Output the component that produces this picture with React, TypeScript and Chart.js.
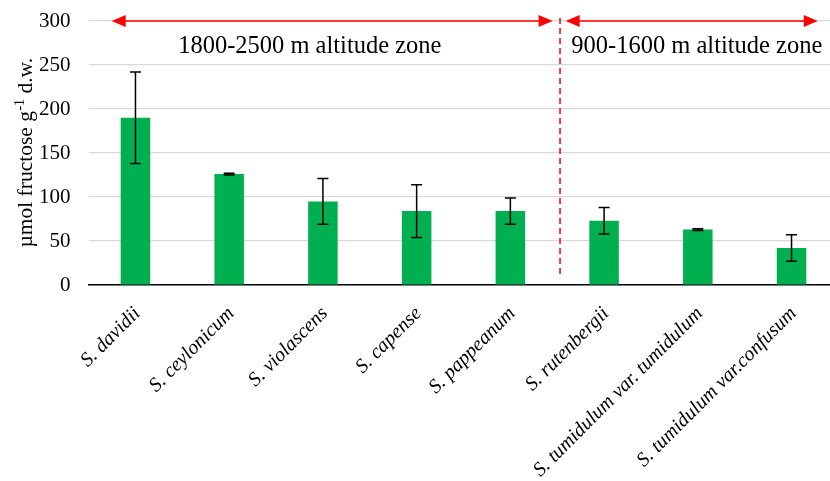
import React, { useEffect, useRef } from "react";
import { Chart, registerables } from "chart.js";

Chart.register(...registerables);

const categories = [
  "S. davidii",
  "S. ceylonicum",
  "S. violascens",
  "S. capense",
  "S. pappeanum",
  "S. rutenbergii",
  "S. tumidulum var. tumidulum",
  "S. tumidulum var.confusum",
];
const fructoseMeans = [190, 126, 95, 84, 84, 73, 63, 42];
const fructoseErrors = [52, 1, 26, 30, 15, 15, 1, 15];
const yTickStep = 50;
const yMax = 300;
const zoneLabels = ["1800-2500 m altitude zone", "900-1600 m altitude zone"];
const yTitleParts = ["\u00b5mol fructose g", "-1", " d.w."];

const SERIF = '"Liberation Serif", "Times New Roman", serif';

const annotationPlugin = {
  id: "annotations",
  afterDatasetsDraw(chart: any) {
    const ctx = chart.ctx;
    const x = chart.scales.x;
    const y = chart.scales.y;
    const x0 = x.getPixelForValue(0);
    const step = x.getPixelForValue(1) - x0;
    const px = (v: number) => x0 + v * step;

    // error bars
    ctx.save();
    ctx.strokeStyle = "#000";
    ctx.lineWidth = 1.5;
    fructoseMeans.forEach((m, i) => {
      const e = fructoseErrors[i];
      const cx = x.getPixelForValue(i);
      const yt = y.getPixelForValue(m + e);
      const yb = y.getPixelForValue(m - e);
      ctx.beginPath();
      ctx.moveTo(cx, yt);
      ctx.lineTo(cx, yb);
      ctx.moveTo(cx - 5.5, yt);
      ctx.lineTo(cx + 5.5, yt);
      ctx.moveTo(cx - 5.5, yb);
      ctx.lineTo(cx + 5.5, yb);
      ctx.stroke();
    });
    ctx.restore();

    // arrows
    const ay = y.getPixelForValue(yMax);
    const drawArrow = (a: number, b: number) => {
      const xa = px(a);
      const xb = px(b);
      const hl = 14;
      const hw = 6;
      ctx.save();
      ctx.strokeStyle = "#ff0000";
      ctx.fillStyle = "#ff0000";
      ctx.lineWidth = 1.5;
      ctx.beginPath();
      ctx.moveTo(xa + hl - 2, ay);
      ctx.lineTo(xb - hl + 2, ay);
      ctx.stroke();
      ctx.beginPath();
      ctx.moveTo(xa, ay);
      ctx.lineTo(xa + hl, ay - hw);
      ctx.lineTo(xa + hl, ay + hw);
      ctx.closePath();
      ctx.fill();
      ctx.beginPath();
      ctx.moveTo(xb, ay);
      ctx.lineTo(xb - hl, ay - hw);
      ctx.lineTo(xb - hl, ay + hw);
      ctx.closePath();
      ctx.fill();
      ctx.restore();
    };
    drawArrow(-0.254, 4.451);
    drawArrow(4.59, 7.28);

    // divider
    ctx.save();
    ctx.strokeStyle = "#ff0000";
    ctx.lineWidth = 1.5;
    ctx.setLineDash([6, 4]);
    ctx.beginPath();
    const dx = px(4.53);
    ctx.moveTo(dx, ay - 3);
    ctx.lineTo(dx, y.getPixelForValue(12));
    ctx.stroke();
    ctx.restore();

    // zone labels
    ctx.save();
    ctx.fillStyle = "#000";
    ctx.font = `24.5px ${SERIF}`;
    ctx.textBaseline = "alphabetic";
    const ty = y.getPixelForValue(264);
    ctx.textAlign = "center";
    ctx.fillText(zoneLabels[0], px(1.86), ty);
    ctx.textAlign = "left";
    ctx.fillText(zoneLabels[1], px(4.65), ty);
    ctx.restore();

    // y title with superscript
    ctx.save();
    const cy = (chart.chartArea.top + chart.chartArea.bottom) / 2;
    ctx.translate(32, cy);
    ctx.rotate(-Math.PI / 2);
    ctx.fillStyle = "#000";
    ctx.textBaseline = "alphabetic";
    ctx.textAlign = "left";
    const main = `21.5px ${SERIF}`;
    const sup = `14px ${SERIF}`;
    ctx.font = main;
    const w1 = ctx.measureText(yTitleParts[0]).width;
    const w3 = ctx.measureText(yTitleParts[2]).width;
    ctx.font = sup;
    const w2 = ctx.measureText(yTitleParts[1]).width;
    const start = -(w1 + w2 + w3) / 2;
    ctx.font = main;
    ctx.fillText(yTitleParts[0], start, 0);
    ctx.font = sup;
    ctx.fillText(yTitleParts[1], start + w1 + 0.5, -8);
    ctx.font = main;
    ctx.fillText(yTitleParts[2], start + w1 + w2 + 0.5, 0);
    ctx.restore();
  },
};

export default function App() {
  const ref = useRef<HTMLCanvasElement | null>(null);
  useEffect(() => {
    if (!ref.current) return;
    const chart = new Chart(ref.current, {
      type: "bar",
      data: {
        labels: categories,
        datasets: [
          {
            data: fructoseMeans,
            backgroundColor: "#00b050",
            borderWidth: 0,
            barPercentage: 0.315,
            categoryPercentage: 1,
          },
        ],
      },
      options: {
        animation: false,
        responsive: false,
        devicePixelRatio: 1,
        layout: { padding: { top: 21, right: 11.6, bottom: 0, left: 0 } },
        plugins: {
          legend: { display: false },
          tooltip: { enabled: false },
        },
        scales: {
          x: {
            type: "category",
            offset: true,
            grid: { display: false },
            border: { display: true, color: "#000", width: 1.5 },
            ticks: {
              autoSkip: false,
              minRotation: 45,
              maxRotation: 45,
              color: "#000",
              padding: 9,
              labelOffset: 2,
              font: { family: SERIF, size: 20, style: "italic" },
            },
            afterFit: (s: any) => {
              s.height = 196;
            },
          },
          y: {
            min: 0,
            max: yMax,
            ticks: {
              stepSize: yTickStep,
              color: "#000",
              padding: 3,
              font: { family: SERIF, size: 21 },
            },
            grid: {
              drawTicks: true,
              tickLength: 15,
              tickColor: "rgba(0,0,0,0)",
              color: (c: any) => (c.tick && c.tick.value === 0 ? "rgba(0,0,0,0)" : "#d9d9d9"),
              lineWidth: 1.2,
            },
            border: { display: false },
            afterFit: (s: any) => {
              s.width = 88.6;
            },
          },
        },
      },
      plugins: [annotationPlugin],
    } as any);
    return () => chart.destroy();
  }, []);
  return (
    <div
      style={{
        position: "fixed",
        left: 0,
        top: 0,
        width: 830,
        height: 481,
        overflow: "hidden",
        background: "#fff",
      }}
    >
      <canvas ref={ref} width={850} height={481} style={{ width: 850, height: 481, display: "block" }} />
    </div>
  );
}
